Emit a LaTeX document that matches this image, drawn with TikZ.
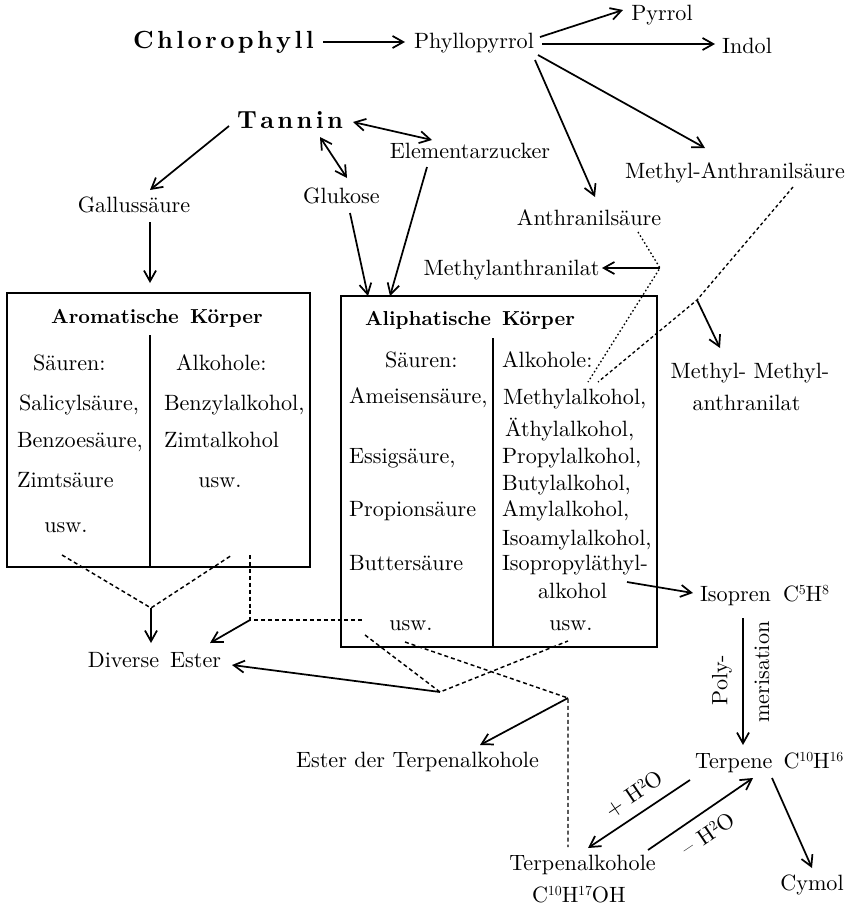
\documentclass[tikz,border=0pt]{standalone}
\usepackage{fontspec}
\setmainfont{lmroman10-regular}[Extension=.otf, BoldFont=lmroman10-bold]
\usetikzlibrary{arrows.meta,calc,fit}
% letter spacing for the spaced-out bold headwords
\newcommand\sperrkern{\kern2.5pt}
% small raised index digits of the chemical formulas
\newcommand\hochzahl[1]{\kern-0.2pt\raisebox{5.2pt}{\fontsize{10.4}{11}\selectfont #1}}
\begin{document}
\begin{tikzpicture}[x=0.75pt,y=-0.75pt,
  every node/.style={inner sep=0pt, outer sep=0pt, font=\fontsize{16.6}{20}\selectfont},
  lbl/.style={anchor=base},
  lft/.style={anchor=base west},
  big/.style={anchor=base, font=\fontsize{18.6}{22}\selectfont\bfseries},
  ttl/.style={anchor=base, font=\fontsize{15.2}{18}\selectfont\bfseries},
  arr/.style={line width=1.3pt, -{Straight Barb[length=8pt,width=9pt]}},
  darr/.style={line width=1.3pt, {Straight Barb[length=8pt,width=9pt]}-{Straight Barb[length=8pt,width=9pt]}},
  dsh/.style={line width=1.1pt, dash pattern=on 3pt off 2.2pt},
  fdsh/.style={line width=1pt, dash pattern=on 2.4pt off 2pt},
  dot/.style={line width=1pt, dash pattern=on 1.2pt off 1.8pt},
  box/.style={draw, line width=1.4pt, inner sep=0pt},
  rule/.style={line width=1.4pt}
]
\useasboundingbox (0,0) rectangle (851,907);

% ---- top row: chlorophyll and its products
\node[big] (chl) at (223.5,48) {C\sperrkern h\sperrkern l\sperrkern o\sperrkern r\sperrkern o\sperrkern p\sperrkern h\sperrkern y\sperrkern l\sperrkern l};
\node[lbl] (phy) at (474,48) {Phyllopyrrol};
\node[lbl] (pyr) at (662,20) {Pyrrol};
\node[lbl] (ind) at (747,53) {Indol};
\node[lbl] (man) at (735,178) {Methyl-Anthranilsäure};
\node[lbl] (ans) at (589,225) {Anthranilsäure};
\node[lbl] (mat) at (511.5,275) {Methylanthranilat};
\node[lbl] (mma1) at (750,378) {Methyl- Methyl-};
\node[lbl] (mma2) at (746.5,410) {anthranilat};

% ---- tannin group
\node[big] (tan) at (290,128) {T\sperrkern a\sperrkern n\sperrkern n\sperrkern i\sperrkern n};
\node[lbl] (elz) at (470,158) {Elementarzucker};
\node[lbl] (glu) at (341.5,203) {Glukose};
\node[lbl] (gal) at (134,212) {Gallussäure};

% ---- aromatic box
\node[box, fit={(7,293) (310,567)}] (aro) {};
\draw[rule] ($(aro.north west)+(143,42)$) -- ($(aro.south west)+(143,0)$);
\node[ttl] (aroT) at (157,323) {Aromatische\, Körper};
\node[lft] (aroS) at (33,370) {Säuren:};
\node[lft] (aroA) at (176,370) {Alkohole:};
\node[lft] (aroS1) at (19,410) {Salicylsäure,};
\node[lft] (aroA1) at (164,410) {Benzylalkohol,};
\node[lft] (aroS2) at (17,447) {Benzoesäure,};
\node[lft] (aroA2) at (164,447) {Zimtalkohol};
\node[lft] (aroS3) at (17,487) {Zimtsäure};
\node[lbl] (aroA3) at (220,487) {usw.};
\node[lbl] (aroS4) at (66,532) {usw.};

% ---- aliphatic box
\node[box, fit={(341,296) (657,647)}] (ali) {};
\draw[rule] ($(ali.north west)+(152,42)$) -- ($(ali.south west)+(152,0)$);
\node[ttl] (aliT) at (470,325) {Aliphatische\, Körper};
\node[lft] (aliS) at (385,367) {Säuren:};
\node[lft] (aliA) at (502,367) {Alkohole:};
\node[lft] (aliS1) at (349,403) {Ameisensäure,};
\node[lft] (malk) at (503,404) {Methylalkohol,};
\node[lft] (aliA2) at (505,436) {Äthylalkohol,};
\node[lft] (aliS2) at (349,463) {Essigsäure,};
\node[lft] (aliA3) at (502,463) {Propylalkohol,};
\node[lft] (aliA4) at (502,490) {Butylalkohol,};
\node[lft] (aliS3) at (349,516) {Propionsäure};
\node[lft] (aliA5) at (502,516) {Amylalkohol,};
\node[lft] (aliA6) at (502,545) {Isoamylalkohol,};
\node[lft] (aliS4) at (349,570) {Buttersäure};
\node[lft] (aliA7) at (502,570) {Isopropyläthyl-};
\node[lbl] (alk) at (572.5,598) {alkohol};
\node[lbl] (aliS5) at (411,630) {usw.};
\node[lbl] (aliA8) at (571,630) {usw.};

% ---- terpene chain
\node[lft] (iso) at (700,601) {Isopren\hspace{0.55em}C\hochzahl{5}H\hochzahl{8}};
\node[lft] (ter) at (695,768) {Terpene\hspace{0.5em}C\hochzahl{10}H\hochzahl{16}};
\node[lbl] (tal) at (582.5,870) {Terpenalkohole};
\node[lbl] (talf) at (579,902) {C\hochzahl{10}H\hochzahl{17}OH};
\node[lbl] (cym) at (812,890) {Cymol};
\node[rotate=90] (poly1) at (722,680) {Poly-};
\node[rotate=90] (poly2) at (762,672) {merisation};
\node[rotate=34] (plus) at (634,794) {+ H\hochzahl{2}O};
\node[rotate=34] (minus) at (708,834) {-- H\hochzahl{2}O};

% ---- esters
\node[lbl] (div) at (154.5,667) {Diverse\, Ester};
\node[lbl] (etp) at (417.5,767) {Ester der Terpenalkohole};

% ---- connectors, top
\draw[arr] ($(chl.base)+(99.5,-6)$) -- ($(phy.base)+(-69,-6)$);
\draw[arr] ($(phy.base)+(66,-11)$) -- ($(pyr.base)+(-39,-10)$);
\draw[arr] ($(phy.base)+(68,-4)$) -- ($(ind.base)+(-32,-9)$);
\draw[arr] ($(phy.base)+(64,7)$) -- ($(man.base)+(-30,-30)$);
\draw[arr] ($(phy.base)+(61,12)$) -- ($(ans.base)+(6,-28)$);

\draw[arr] ($(tan.base)+(-61,-2)$) -- ($(gal.base)+(16,-22)$);
\draw[darr] ($(tan.base)+(63,-6)$) -- ($(elz.base)+(-38,-18)$);
\draw[darr] ($(tan.base)+(30,9)$) -- ($(glu.base)+(5.5,-25)$);
\draw[arr] ($(gal.base)+(16,10)$) -- ($(aro.north)+(-8.5,-10)$);
\draw[arr] ($(glu.base)+(8.5,10)$) -- ($(ali.north west)+(27,0)$);
\draw[arr] ($(elz.base)+(-43,9)$) -- ($(ali.north west)+(49,0)$);

% anthranilic acid branch
\coordinate (jA) at ($(ans.base)+(71,43)$);
\draw[dot] ($(ans.base)+(49,7)$) -- (jA) -- ($(malk.base west)+(85,-22)$);
\draw[arr] (jA) -- ($(mat.base)+(90.5,-7)$);

\coordinate (jB) at ($(man.base)+(-38,122)$);
\draw[fdsh] ($(man.base)+(58,9)$) -- (jB) -- ($(malk.base west)+(95,-22)$);
\draw[arr] (jB) -- ($(mma1.base)+(-30,-30)$);

% isoprene and terpenes
\draw[arr] ($(alk.base)+(54.5,-16)$) -- ($(iso.base west)+(-7,-8)$);
\draw[arr] ($(iso.base west)+(43,17)$) -- ($(ter.base west)+(48,-23)$);
\draw[arr] ($(ter.base west)+(-5,12)$) -- ($(tal.base)+(5.5,-22)$);
\draw[arr] ($(tal.base)+(65.5,-20)$) -- ($(ter.base west)+(58,10)$);
\draw[arr] ($(ter.base west)+(77,10)$) -- ($(cym.base)+(0,-22)$);

% ester formation
\coordinate (jC) at ($(aro.south west)+(144,41)$);
\draw[dsh] ($(aro.south west)+(55,-12)$) -- (jC) -- ($(aro.south west)+(225,-12)$);
\draw[arr] (jC) -- ($(div.base)+(-3.5,-24)$);

\coordinate (jD) at ($(aro.south west)+(243,53)$);
\draw[dsh] ($(aro.south west)+(243,-12)$) -- (jD) -- ($(ali.south west)+(21,-27)$);
\draw[arr] (jD) -- ($(div.base)+(55.5,-24)$);

\coordinate (jE) at ($(ali.south west)+(99,45)$);
\draw[dsh] ($(ali.south west)+(24,-12)$) -- (jE) -- ($(ali.south west)+(227,-6)$);
\draw[arr] (jE) -- ($(div.base)+(77.5,-2)$);

\coordinate (jF) at ($(ali.south west)+(227,51)$);
\draw[dsh] ($(ali.south west)+(64,-5)$) -- (jF) -- ($(tal.base)+(-14.5,-23)$);
\draw[arr] (jF) -- ($(etp.base)+(62.5,-22)$);
\end{tikzpicture}
\end{document}
